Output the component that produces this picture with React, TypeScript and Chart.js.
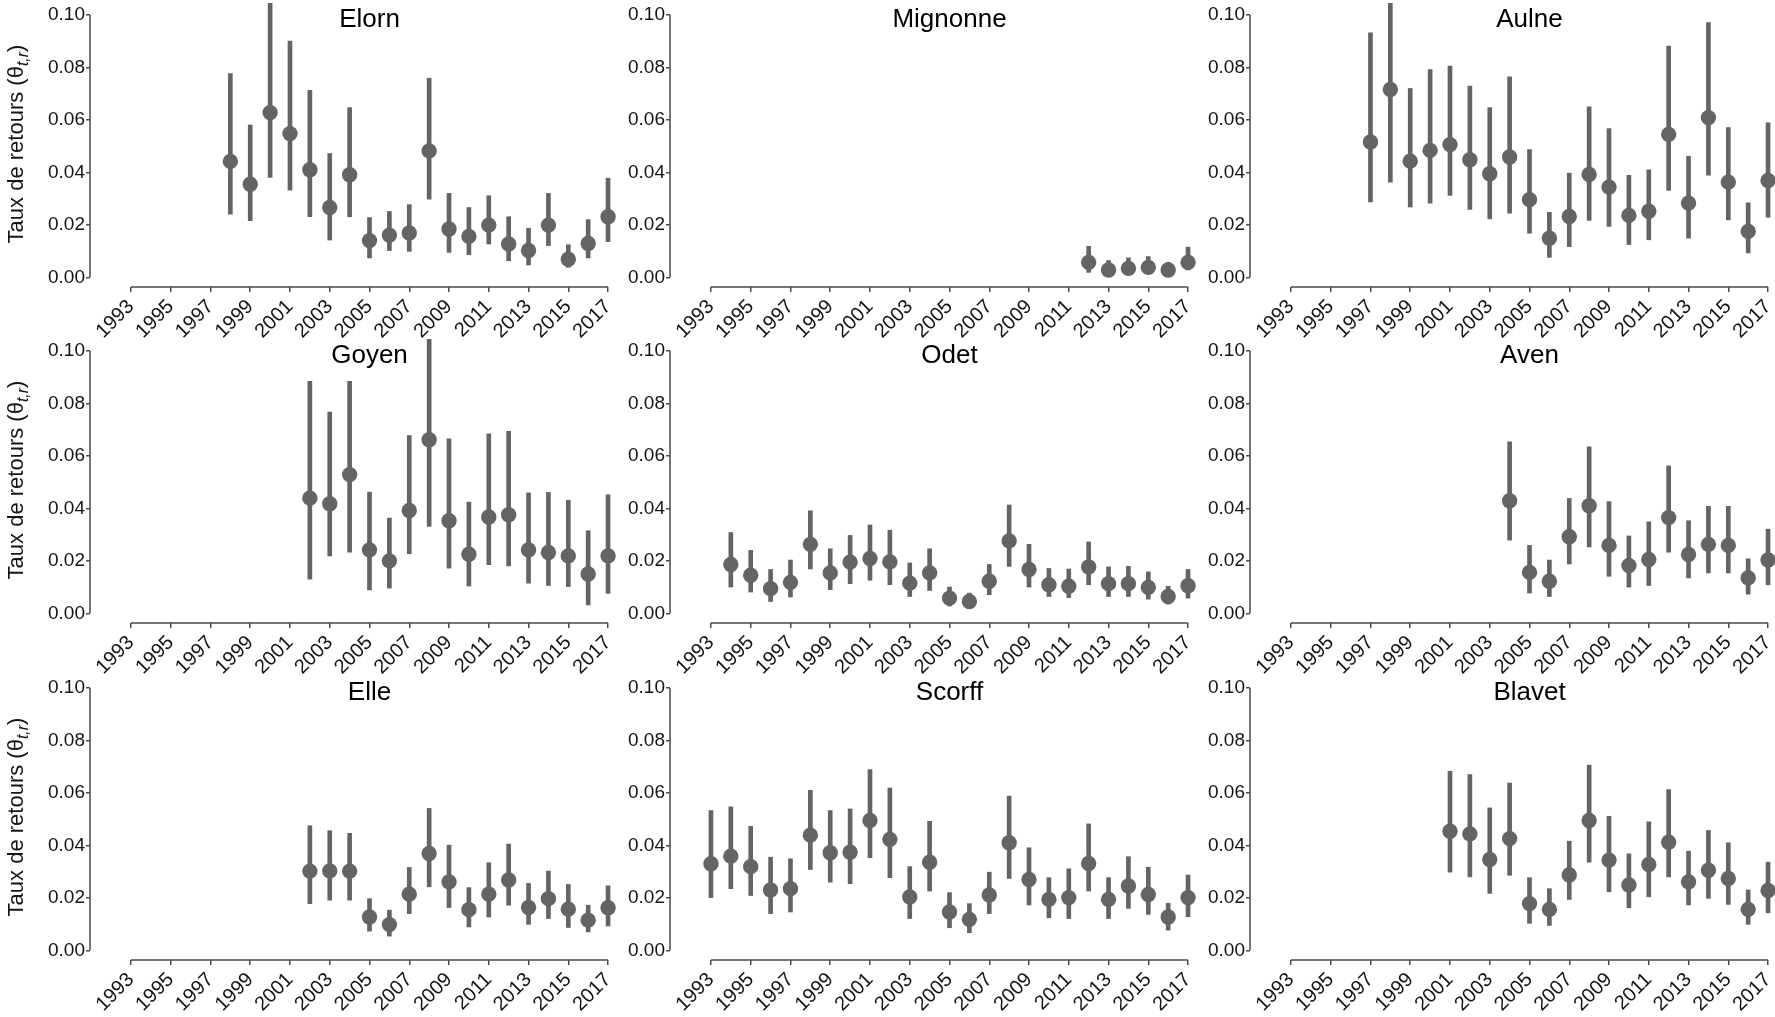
import React, { useEffect, useRef } from 'react';
import { Chart, registerables } from 'chart.js';

Chart.register(...registerables);

// ---------- tick labels ----------
const xTickYears = [1993, 1995, 1997, 1999, 2001, 2003, 2005, 2007, 2009, 2011, 2013, 2015, 2017];
const yTickValues = [0, 0.02, 0.04, 0.06, 0.08, 0.1];
const yAxisTitle = 'Taux de retours (θ';
const yAxisTitleSub = 't,r';

// ---------- data ----------
const elornYears = [1998, 1999, 2000, 2001, 2002, 2003, 2004, 2005, 2006, 2007, 2008, 2009, 2010, 2011, 2012, 2013, 2014, 2015, 2016, 2017];
const elornMean = [0.0442, 0.0355, 0.0628, 0.0548, 0.041, 0.0266, 0.0391, 0.014, 0.0161, 0.0169, 0.0482, 0.0184, 0.0156, 0.0199, 0.0127, 0.0102, 0.0199, 0.0069, 0.0129, 0.0231];
const elornLower = [0.0241, 0.0216, 0.0381, 0.0332, 0.0231, 0.0142, 0.0231, 0.0074, 0.0102, 0.0099, 0.0298, 0.0095, 0.0086, 0.0127, 0.0063, 0.0047, 0.0121, 0.0038, 0.0074, 0.0136];
const elornUpper = [0.0777, 0.0581, 0.108, 0.0901, 0.0713, 0.0472, 0.0647, 0.0228, 0.0251, 0.0277, 0.0759, 0.032, 0.0266, 0.0311, 0.0231, 0.0187, 0.032, 0.0124, 0.022, 0.0378];

const mignonneYears = [2012, 2013, 2014, 2015, 2016, 2017];
const mignonneMean = [0.0057, 0.0028, 0.0034, 0.0038, 0.0028, 0.0057];
const mignonneLower = [0.0019, 0.0006, 0.0013, 0.0015, 0.0006, 0.0028];
const mignonneUpper = [0.0118, 0.0064, 0.0074, 0.0079, 0.0057, 0.0115];

const aulneYears = [1997, 1998, 1999, 2000, 2001, 2002, 2003, 2004, 2005, 2006, 2007, 2008, 2009, 2010, 2011, 2012, 2013, 2014, 2015, 2016, 2017];
const aulneMean = [0.0516, 0.0716, 0.0443, 0.0484, 0.0506, 0.0448, 0.0395, 0.0459, 0.0296, 0.0149, 0.0232, 0.0392, 0.0344, 0.0236, 0.0252, 0.0545, 0.0283, 0.0609, 0.0363, 0.0175, 0.0369];
const aulneLower = [0.0287, 0.0363, 0.0268, 0.0283, 0.0312, 0.0259, 0.0223, 0.0245, 0.0168, 0.0076, 0.0117, 0.0217, 0.0194, 0.0125, 0.0143, 0.0331, 0.0149, 0.0389, 0.0219, 0.0093, 0.0229];
const aulneUpper = [0.0932, 0.108, 0.072, 0.0792, 0.0805, 0.0729, 0.0647, 0.0764, 0.0487, 0.0248, 0.0397, 0.065, 0.0567, 0.0389, 0.041, 0.0882, 0.0461, 0.0971, 0.0571, 0.0284, 0.0589];

const goyenYears = [2002, 2003, 2004, 2005, 2006, 2007, 2008, 2009, 2010, 2011, 2012, 2013, 2014, 2015, 2016, 2017];
const goyenMean = [0.0439, 0.0418, 0.0529, 0.0242, 0.02, 0.0392, 0.0662, 0.0353, 0.0225, 0.0367, 0.0376, 0.0242, 0.0232, 0.0219, 0.015, 0.0219];
const goyenLower = [0.013, 0.0219, 0.0233, 0.0089, 0.0096, 0.0227, 0.0331, 0.0172, 0.0104, 0.0185, 0.0181, 0.0115, 0.0106, 0.0102, 0.0032, 0.0076];
const goyenUpper = [0.0885, 0.0767, 0.0885, 0.0462, 0.0363, 0.0678, 0.11, 0.0665, 0.0424, 0.0684, 0.0694, 0.0459, 0.0461, 0.0431, 0.0315, 0.0452];

const odetYears = [1994, 1995, 1996, 1997, 1998, 1999, 2000, 2001, 2002, 2003, 2004, 2005, 2006, 2007, 2008, 2009, 2010, 2011, 2012, 2013, 2014, 2015, 2016, 2017];
const odetMean = [0.0186, 0.0145, 0.0094, 0.0118, 0.0263, 0.0154, 0.0195, 0.0209, 0.0196, 0.0115, 0.0154, 0.0058, 0.0045, 0.0122, 0.0276, 0.0167, 0.0109, 0.0103, 0.0177, 0.0113, 0.0113, 0.0099, 0.0064, 0.0105];
const odetLower = [0.01, 0.0081, 0.0045, 0.0062, 0.0169, 0.009, 0.0113, 0.0126, 0.0109, 0.0064, 0.0087, 0.0028, 0.0026, 0.0071, 0.0179, 0.01, 0.0064, 0.006, 0.0109, 0.0064, 0.0064, 0.0054, 0.0035, 0.0058];
const odetUpper = [0.0308, 0.024, 0.0167, 0.0203, 0.0391, 0.0246, 0.0297, 0.0337, 0.0317, 0.0192, 0.0246, 0.01, 0.0077, 0.0186, 0.0413, 0.0263, 0.0171, 0.0169, 0.0272, 0.0177, 0.0179, 0.0158, 0.0103, 0.0167];

const avenYears = [2004, 2005, 2006, 2007, 2008, 2009, 2010, 2011, 2012, 2013, 2014, 2015, 2016, 2017];
const avenMean = [0.0429, 0.0156, 0.0122, 0.0292, 0.041, 0.0259, 0.0182, 0.0205, 0.0365, 0.0224, 0.0263, 0.0259, 0.0135, 0.0203];
const avenLower = [0.0279, 0.0077, 0.0064, 0.0188, 0.0253, 0.0141, 0.01, 0.0106, 0.0233, 0.0135, 0.0154, 0.0154, 0.0073, 0.0109];
const avenUpper = [0.0654, 0.0259, 0.0203, 0.0438, 0.0635, 0.0426, 0.0295, 0.0349, 0.0562, 0.0353, 0.0408, 0.0408, 0.0208, 0.0321];

const elleYears = [2002, 2003, 2004, 2005, 2006, 2007, 2008, 2009, 2010, 2011, 2012, 2013, 2014, 2015, 2016, 2017];
const elleMean = [0.0302, 0.0303, 0.0302, 0.0127, 0.0098, 0.0214, 0.0369, 0.0261, 0.0155, 0.0214, 0.0268, 0.0163, 0.0197, 0.0157, 0.0115, 0.0162];
const elleLower = [0.0178, 0.0191, 0.0191, 0.0073, 0.0054, 0.014, 0.0242, 0.0163, 0.0089, 0.0127, 0.0172, 0.0099, 0.0121, 0.0087, 0.007, 0.0093];
const elleUpper = [0.0475, 0.0456, 0.0446, 0.0197, 0.0153, 0.0316, 0.0541, 0.0401, 0.0239, 0.0334, 0.0405, 0.0255, 0.0302, 0.0251, 0.0172, 0.0246];

const scorffYears = [1993, 1994, 1995, 1996, 1997, 1998, 1999, 2000, 2001, 2002, 2003, 2004, 2005, 2006, 2007, 2008, 2009, 2010, 2011, 2012, 2013, 2014, 2015, 2016, 2017];
const scorffMean = [0.033, 0.0359, 0.0319, 0.023, 0.0235, 0.0439, 0.0372, 0.0374, 0.0495, 0.0423, 0.0203, 0.0336, 0.0146, 0.0118, 0.0211, 0.041, 0.027, 0.0194, 0.0201, 0.0331, 0.0194, 0.0245, 0.0213, 0.0127, 0.0201];
const scorffLower = [0.0201, 0.0235, 0.0209, 0.014, 0.0146, 0.0308, 0.026, 0.0254, 0.0353, 0.0277, 0.0121, 0.0226, 0.0086, 0.0067, 0.014, 0.0274, 0.0173, 0.0124, 0.0121, 0.0226, 0.0121, 0.016, 0.0137, 0.0077, 0.0128];
const scorffUpper = [0.0533, 0.0547, 0.0473, 0.0355, 0.0349, 0.061, 0.0533, 0.0539, 0.0689, 0.0619, 0.0319, 0.0492, 0.022, 0.0178, 0.0298, 0.0588, 0.0391, 0.0277, 0.0311, 0.0482, 0.0277, 0.0357, 0.0317, 0.0179, 0.0287];

const blavetYears = [2001, 2002, 2003, 2004, 2005, 2006, 2007, 2008, 2009, 2010, 2011, 2012, 2013, 2014, 2015, 2016, 2017];
const blavetMean = [0.0454, 0.0444, 0.0346, 0.0426, 0.0178, 0.0156, 0.0287, 0.0495, 0.0344, 0.0249, 0.0327, 0.0412, 0.0261, 0.0305, 0.0274, 0.0156, 0.0228];
const blavetLower = [0.0298, 0.028, 0.0217, 0.0286, 0.0103, 0.0095, 0.0194, 0.0336, 0.0223, 0.0162, 0.0204, 0.028, 0.0173, 0.0198, 0.0175, 0.0099, 0.0143];
const blavetUpper = [0.0683, 0.067, 0.0543, 0.0638, 0.0277, 0.0235, 0.0416, 0.0706, 0.0511, 0.0368, 0.049, 0.0613, 0.0378, 0.0457, 0.041, 0.023, 0.0336];

type PanelData = { name: string; years: number[]; mean: number[]; lower: number[]; upper: number[] };

const panels: PanelData[] = [
  { name: 'Elorn', years: elornYears, mean: elornMean, lower: elornLower, upper: elornUpper },
  { name: 'Mignonne', years: mignonneYears, mean: mignonneMean, lower: mignonneLower, upper: mignonneUpper },
  { name: 'Aulne', years: aulneYears, mean: aulneMean, lower: aulneLower, upper: aulneUpper },
  { name: 'Goyen', years: goyenYears, mean: goyenMean, lower: goyenLower, upper: goyenUpper },
  { name: 'Odet', years: odetYears, mean: odetMean, lower: odetLower, upper: odetUpper },
  { name: 'Aven', years: avenYears, mean: avenMean, lower: avenLower, upper: avenUpper },
  { name: 'Elle', years: elleYears, mean: elleMean, lower: elleLower, upper: elleUpper },
  { name: 'Scorff', years: scorffYears, mean: scorffMean, lower: scorffLower, upper: scorffUpper },
  { name: 'Blavet', years: blavetYears, mean: blavetMean, lower: blavetLower, upper: blavetUpper },
];

// ---------- layout / style ----------
const FONT = "'Liberation Sans', Arial, sans-serif";
const MARK = '#646464';
const AXIS = '#4a4a4a';
const TEXT = '#141414';
const Y_AXIS_W = 70;
const X_AXIS_H = 64;
const AREA_W = 528;
const AREA_H = 284;
const COL_X0 = 20;
const COL_STEP = 580;
const ROW_TOPS = [3, 339, 676];
const X_MIN = 1990.94;
const X_MAX = 2017.5;
const Y_MIN = -0.0037;
const Y_MAX = 0.1046;

const cappedAxes = {
  id: 'cappedAxes',
  afterDraw(chart: any) {
    const { ctx, chartArea, scales } = chart;
    const xs = scales.x;
    const ys = scales.y;
    ctx.save();
    ctx.strokeStyle = AXIS;
    ctx.lineWidth = 1.5;
    ctx.beginPath();
    ctx.moveTo(xs.getPixelForValue(xTickYears[0]), chartArea.bottom);
    ctx.lineTo(xs.getPixelForValue(xTickYears[xTickYears.length - 1]), chartArea.bottom);
    ctx.moveTo(chartArea.left, ys.getPixelForValue(yTickValues[0]));
    ctx.lineTo(chartArea.left, ys.getPixelForValue(yTickValues[yTickValues.length - 1]));
    ctx.stroke();
    ctx.restore();
  },
};

const panelTitle = {
  id: 'panelTitle',
  afterDraw(chart: any, _args: any, opts: any) {
    const { ctx, scales } = chart;
    ctx.save();
    ctx.fillStyle = '#000';
    ctx.font = `26px ${FONT}`;
    ctx.textAlign = 'center';
    ctx.textBaseline = 'alphabetic';
    ctx.fillText(opts.text, scales.x.getPixelForValue(2005), scales.y.getPixelForValue(0.1) + 12);
    ctx.restore();
  },
};

function Panel({ panel, left, top }: { panel: PanelData; left: number; top: number }) {
  const ref = useRef<HTMLCanvasElement>(null);
  useEffect(() => {
    if (!ref.current) return;
    const chart = new Chart(ref.current, {
      type: 'bar',
      data: {
        datasets: [
          {
            type: 'bar',
            data: panel.years.map((yr, i) => ({ x: yr, y: [panel.lower[i], panel.upper[i]] })) as any,
            backgroundColor: MARK,
            borderWidth: 0,
            barThickness: 4,
            clip: 0,
            order: 2,
          } as any,
          {
            type: 'scatter',
            data: panel.years.map((yr, i) => ({ x: yr, y: panel.mean[i] })),
            backgroundColor: MARK,
            borderWidth: 0,
            pointRadius: 7.7,
            pointHoverRadius: 7.7,
            order: 1,
          } as any,
        ],
      },
      options: {
        responsive: false,
        maintainAspectRatio: false,
        animation: false,
        events: [],
        layout: { padding: 0, autoPadding: false },
        plugins: {
          legend: { display: false },
          tooltip: { enabled: false },
          title: { display: false },
          panelTitle: { text: panel.name },
        } as any,
        scales: {
          x: {
            type: 'linear',
            min: X_MIN,
            max: X_MAX,
            offset: false,
            afterBuildTicks: (s: any) => {
              s.ticks = xTickYears.map((v) => ({ value: v }));
            },
            afterFit: (s: any) => {
              s.height = X_AXIS_H;
              s.paddingLeft = 0;
              s.paddingRight = 0;
              s.paddingTop = 0;
              s.paddingBottom = 0;
            },
            grid: { display: true, offset: false, drawOnChartArea: false, drawTicks: true, tickLength: 5, color: AXIS, lineWidth: 1.5 },
            border: { display: false },
            ticks: {
              autoSkip: false,
              maxRotation: 45,
              minRotation: 45,
              padding: 3,
              color: TEXT,
              font: { family: FONT, size: 20 },
              callback: (v: any) => String(v),
            },
          },
          y: {
            type: 'linear',
            min: Y_MIN,
            max: Y_MAX,
            afterBuildTicks: (s: any) => {
              s.ticks = yTickValues.map((v) => ({ value: v }));
            },
            afterFit: (s: any) => {
              s.width = Y_AXIS_W;
              s.paddingLeft = 0;
              s.paddingRight = 0;
              s.paddingTop = 0;
              s.paddingBottom = 0;
            },
            grid: { display: true, drawOnChartArea: false, drawTicks: true, tickLength: 4, color: AXIS, lineWidth: 1.5 },
            border: { display: false },
            ticks: {
              padding: 1,
              color: TEXT,
              font: { family: FONT, size: 19 },
              callback: (v: any) => Number(v).toFixed(2),
            },
          },
        },
      } as any,
      plugins: [cappedAxes, panelTitle],
    });
    return () => chart.destroy();
  }, [panel]);
  return (
    <canvas
      ref={ref}
      width={Y_AXIS_W + AREA_W}
      height={AREA_H + X_AXIS_H}
      style={{ position: 'absolute', left, top, width: Y_AXIS_W + AREA_W, height: AREA_H + X_AXIS_H }}
    />
  );
}

export default function App() {
  useEffect(() => {
    document.body.style.margin = '0';
    document.body.style.overflow = 'hidden';
    document.documentElement.style.overflow = 'hidden';
  }, []);
  return (
    <div style={{ position: 'relative', width: 1775, height: 1017, overflow: 'hidden', background: '#fff' }}>
      {panels.map((p, i) => {
        const c = i % 3;
        const r = Math.floor(i / 3);
        return <Panel key={p.name} panel={p} left={COL_X0 + c * COL_STEP} top={ROW_TOPS[r]} />;
      })}
      {ROW_TOPS.map((t, r) => (
        <div
          key={r}
          style={{
            position: 'absolute',
            left: 18,
            top: t + 12 + 129,
            transform: 'translate(-50%, -50%) rotate(-90deg)',
            whiteSpace: 'nowrap',
            fontFamily: FONT,
            fontSize: 22,
            color: TEXT,
            lineHeight: 1,
          }}
        >
          {yAxisTitle}
          <sub style={{ fontStyle: 'italic', fontSize: 16 }}>{yAxisTitleSub}</sub>)
        </div>
      ))}
    </div>
  );
}
